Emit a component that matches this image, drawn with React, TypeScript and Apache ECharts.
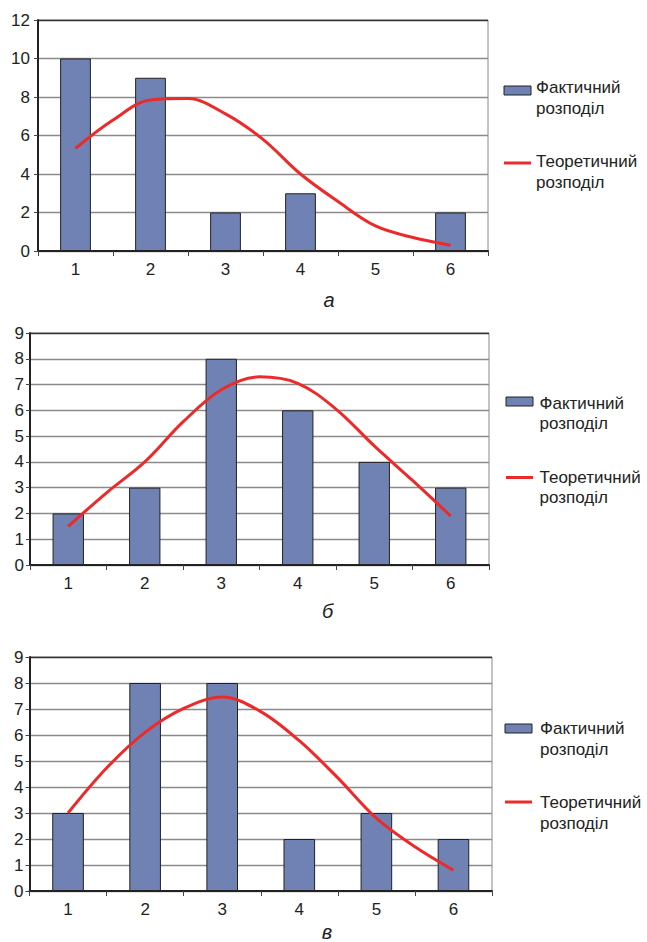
import React, { useEffect, useRef } from "react";
import * as echarts from "echarts";

const CATEGORIES = ["1", "2", "3", "4", "5", "6"];
const THEORY_X = [1, 1.5, 2, 2.5, 3, 3.5, 4, 4.5, 5, 5.5, 6];

const ACTUAL_A = [10, 9, 2, 3, 0, 2];
const THEORY_A = [5.33, 6.8, 7.85, 7.92, 7.12, 5.8, 4.0, 2.57, 1.3, 0.7, 0.3];

const ACTUAL_B = [2, 3, 8, 6, 4, 3];
const THEORY_B = [1.5, 2.8, 4.0, 5.55, 6.8, 7.3, 7.05, 6.05, 4.62, 3.28, 1.9];

const ACTUAL_V = [3, 8, 8, 2, 3, 2];
const THEORY_V = [3.0, 4.73, 6.1, 7.02, 7.46, 6.9, 5.78, 4.35, 2.8, 1.7, 0.8];

const Y_MAX = [12, 9, 9];
const Y_INTERVAL = [2, 1, 1];
const CAPTIONS = ["а", "б", "в"];

const NAME_ACT = "Фактичний\nрозподіл";
const NAME_TH = "Теоретичний\nрозподіл";

const FONT = "'Liberation Sans', Arial, sans-serif";
const BAR_COLOR = "#7082b4";
const LINE_COLOR = "#ec2a2a";

const GRIDS = [
  { left: 38, top: 20, width: 450, height: 231 },
  { left: 30, top: 333, width: 459, height: 232 },
  { left: 29.5, top: 657, width: 462.5, height: 234 },
];
const LABEL_MARGIN = [8, 6, 6];
const LEGEND_POS = [
  { iconX: 504, textX: 536, actIcon: 90.5, actText: 87.5, thIcon: 163, thText: 161.5 },
  { iconX: 506, textX: 539.5, actIcon: 401.5, actText: 403, thIcon: 477.5, thText: 477 },
  { iconX: 505, textX: 540, actIcon: 728.5, actText: 728.5, thIcon: 802, thText: 802.5 },
];
const CAPTION_POS = [
  { x: 329, y: 299.5, va: "middle" },
  { x: 327.5, y: 610.5, va: "middle" },
  { x: 327, y: 942, va: "bottom" },
];

function buildOption() {
  const datasets = [
    { actual: ACTUAL_A, theory: THEORY_A },
    { actual: ACTUAL_B, theory: THEORY_B },
    { actual: ACTUAL_V, theory: THEORY_V },
  ];
  const grid: any[] = [];
  const xAxis: any[] = [];
  const yAxis: any[] = [];
  const series: any[] = [];
  const graphic: any[] = [];
  const LH = 20.5;

  datasets.forEach((ds, i) => {
    grid.push({
      ...GRIDS[i],
      show: true,
      borderColor: "#888",
      borderWidth: 1,
      backgroundColor: "transparent",
    });
    xAxis.push({
      type: "category",
      gridIndex: i,
      data: CATEGORIES,
      axisLine: { show: true, lineStyle: { color: "#222", width: 2 } },
      axisTick: { show: true, length: 5, lineStyle: { color: "#444", width: 1 } },
      axisLabel: { fontSize: 17, color: "#222", margin: 10, fontFamily: FONT },
      splitLine: { show: false },
    });
    xAxis.push({
      type: "value",
      gridIndex: i,
      min: 0.5,
      max: 6.5,
      show: false,
    });
    const nLines = Y_MAX[i] / Y_INTERVAL[i] + 1;
    const splitColors: string[] = [];
    for (let k = 0; k < nLines; k++) splitColors.push(k === nLines - 1 ? "#333" : "#8a8a8a");
    yAxis.push({
      type: "value",
      gridIndex: i,
      min: 0,
      max: Y_MAX[i],
      interval: Y_INTERVAL[i],
      axisLine: { show: true, lineStyle: { color: "#222", width: 2 } },
      axisTick: { show: true, length: 4, lineStyle: { color: "#444", width: 1 } },
      axisLabel: { fontSize: 17, color: "#222", margin: LABEL_MARGIN[i], fontFamily: FONT },
      splitLine: { show: true, lineStyle: { color: splitColors, width: 1.3 } },
    });
    series.push({
      type: "bar",
      name: NAME_ACT,
      xAxisIndex: 2 * i,
      yAxisIndex: i,
      data: ds.actual,
      barWidth: "41%",
      itemStyle: { color: BAR_COLOR, borderColor: "#222", borderWidth: 1 },
      z: 2,
    });
    series.push({
      type: "line",
      name: NAME_TH,
      xAxisIndex: 2 * i + 1,
      yAxisIndex: i,
      data: THEORY_X.map((x, k) => [x, ds.theory[k]]),
      smooth: 0.35,
      symbol: "none",
      lineStyle: { color: LINE_COLOR, width: 3 },
      itemStyle: { color: LINE_COLOR },
      z: 3,
    });

    const lp = LEGEND_POS[i];
    graphic.push({
      type: "rect",
      shape: { x: lp.iconX, y: lp.actIcon - 4.5, width: 27, height: 9 },
      style: { fill: BAR_COLOR, stroke: "#222", lineWidth: 1 },
    });
    graphic.push({
      type: "text",
      x: lp.textX,
      y: lp.actText - LH / 2,
      style: {
        text: NAME_ACT,
        fontSize: 17,
        lineHeight: LH,
        fontFamily: FONT,
        fill: "#222",
        align: "left",
        verticalAlign: "top",
      },
    });
    graphic.push({
      type: "line",
      shape: { x1: lp.iconX, y1: lp.thIcon, x2: lp.iconX + 27, y2: lp.thIcon },
      style: { stroke: LINE_COLOR, lineWidth: 3 },
    });
    graphic.push({
      type: "text",
      x: lp.textX,
      y: lp.thText - LH / 2,
      style: {
        text: NAME_TH,
        fontSize: 17,
        lineHeight: LH,
        fontFamily: FONT,
        fill: "#222",
        align: "left",
        verticalAlign: "top",
      },
    });
    graphic.push({
      type: "text",
      x: CAPTION_POS[i].x,
      y: CAPTION_POS[i].y,
      style: {
        text: CAPTIONS[i],
        fontSize: 20,
        fontStyle: "italic",
        fontFamily: FONT,
        fill: "#222",
        align: "center",
        verticalAlign: CAPTION_POS[i].va,
      },
    });
  });

  return {
    animation: false,
    backgroundColor: "#fff",
    grid,
    xAxis,
    yAxis,
    series,
    graphic,
  };
}

export default function App() {
  const ref = useRef<HTMLDivElement>(null);
  useEffect(() => {
    if (!ref.current) return;
    const chart = echarts.init(ref.current, undefined, { renderer: "svg" });
    chart.setOption(buildOption() as any);
    return () => chart.dispose();
  }, []);
  return (
    <div
      ref={ref}
      style={{ position: "absolute", left: 0, top: 0, width: 647, height: 942 }}
    />
  );
}
